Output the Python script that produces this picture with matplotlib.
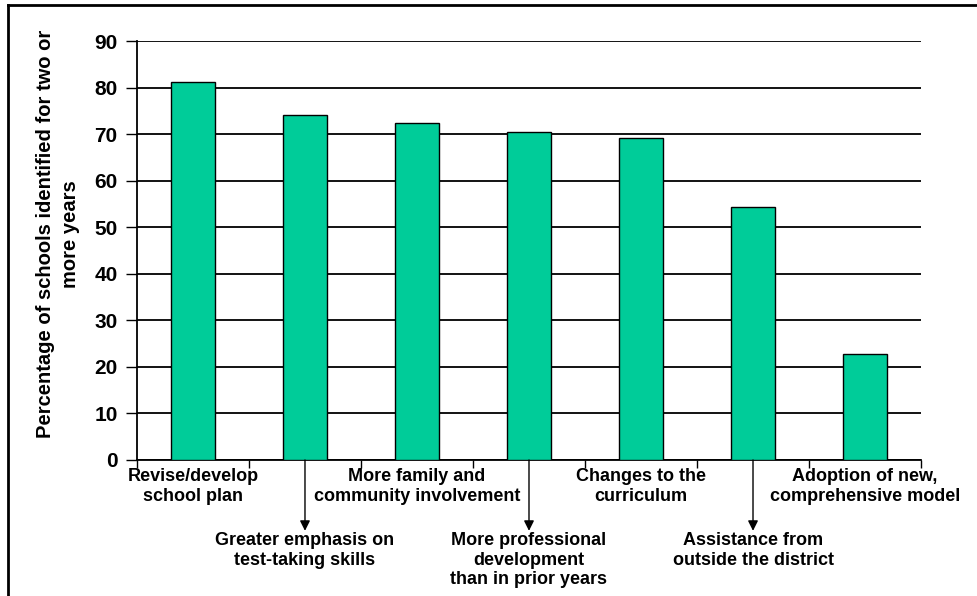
import numpy as np
import matplotlib.pyplot as plt
from matplotlib.lines import Line2D

plt.rcParams['font.family'] = ['Liberation Sans', 'DejaVu Sans']
plt.rcParams['font.weight'] = 'bold'

# Dados
categorias = [
    "Revise/develop\nschool plan",
    "Greater emphasis on\ntest-taking skills",
    "More family and\ncommunity involvement",
    "More professional\ndevelopment\nthan in prior years",
    "Changes to the\ncurriculum",
    "Assistance from\noutside the district",
    "Adoption of new,\ncomprehensive model",
]
percentuais = [81.2, 74.1, 72.3, 70.5, 69.2, 54.3, 22.8]
y_ticks = [0, 10, 20, 30, 40, 50, 60, 70, 80, 90]
y_label = "Percentage of schools identified for two or\nmore years"

fig = plt.figure(figsize=(9.77, 5.96), dpi=100)
ax = fig.add_axes([0.1402, 0.2282, 0.8025, 0.7030])

x = np.arange(len(categorias))
ax.bar(x, percentuais, width=0.4, color='#00CC99', edgecolor='black', linewidth=1, zorder=3)

ax.set_xlim(-0.5, len(categorias) - 0.5)
ax.set_ylim(0, 90)
ax.set_yticks(y_ticks)
ax.set_yticklabels([str(v) for v in y_ticks], fontsize=15, fontweight='bold')
ax.set_xticks(np.arange(-0.5, len(categorias), 1))
ax.set_xticklabels([])
ax.tick_params(axis='y', direction='out', length=8, width=1, pad=6)
ax.tick_params(axis='x', direction='out', length=6, width=1)

ax.yaxis.grid(True, color='black', linewidth=1.3, zorder=0)
ax.set_axisbelow(True)
for lado in ['top', 'right']:
    ax.spines[lado].set_visible(False)
for lado in ['left', 'bottom']:
    ax.spines[lado].set_linewidth(1.3)

ax.set_ylabel(y_label, fontsize=14.5, fontweight='bold', linespacing=1.35)
ax.yaxis.set_label_coords(-0.073, 0.54)

# Rótulos das categorias: alternando entre perto do eixo e abaixo com seta
for i, rotulo in enumerate(categorias):
    if i % 2 == 0:
        ax.annotate(rotulo, xy=(i, 0), xycoords='data', xytext=(0, -6),
                    textcoords='offset points', ha='center', va='top',
                    fontsize=13, fontweight='bold', linespacing=1.2,
                    multialignment='center', annotation_clip=False)
    else:
        ax.annotate('', xy=(i, 0), xycoords='data', xytext=(0, -51),
                    textcoords='offset points', annotation_clip=False,
                    arrowprops=dict(arrowstyle='<|-, head_width=0.3, head_length=0.6',
                                    color='black', lw=1, shrinkA=0, shrinkB=0))
        ax.annotate(rotulo, xy=(i, 0), xycoords='data', xytext=(0, -52),
                    textcoords='offset points', ha='center', va='top',
                    fontsize=13, fontweight='bold', linespacing=1.2,
                    multialignment='center', annotation_clip=False)

# Moldura (só esquerda e topo visíveis)
fig.add_artist(Line2D([8 / 977, 8 / 977], [0, 1 - 4.5 / 596], transform=fig.transFigure,
                      color='black', linewidth=2))
fig.add_artist(Line2D([8 / 977, 1], [1 - 4.5 / 596, 1 - 4.5 / 596], transform=fig.transFigure,
                      color='black', linewidth=2))

fig.savefig('out.png', dpi=100)
